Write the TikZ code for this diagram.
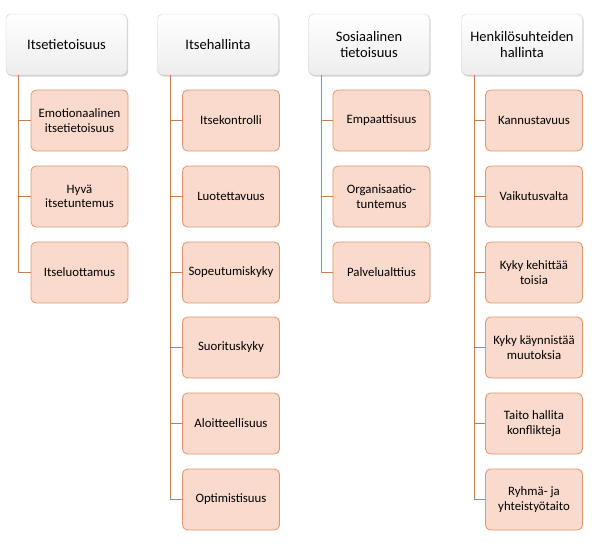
\documentclass[tikz,border=0pt]{standalone}
\usepackage{fontspec}
\setmainfont{Carlito}
\usepackage{tikz}
\usepackage{xcolor}
\usetikzlibrary{shadows}

\definecolor{branch}{RGB}{196,128,82}
\definecolor{itemline}{RGB}{226,150,106}
\definecolor{itemfill}{RGB}{249,218,204}
\definecolor{headline}{RGB}{205,205,205}

\tikzset{
  header/.style={draw=headline, rounded corners=5pt, top color=white, bottom color=gray!14,
    drop shadow={shadow xshift=1.2pt, shadow yshift=-1.5pt, opacity=0.35},
    minimum width=121pt, minimum height=61pt, align=center,
    font=\fontsize{14.5}{16.5}\selectfont},
  item/.style={draw=itemline, fill=itemfill, rounded corners=5pt, line width=0.8pt,
    minimum width=97pt, minimum height=61pt, align=center, inner sep=1pt,
    font=\fontsize{12.8}{14.5}\selectfont},
  branchline/.style={draw=branch, thick}
}

\begin{document}
\begin{tikzpicture}[x=1pt, y=-1pt]
  \useasboundingbox (0,0) rectangle (592,544);

  % Column 1
  \node[header] (h1) at (66.5,44.5) {Itsetietoisuus};
  \node[item] (a1) at (79.5,120.5) {Emotionaalinen\\itsetietoisuus};
  \node[item] (a2) at (79.5,196.5) {Hyvä\\itsetuntemus};
  \node[item] (a3) at (79.5,272.5) {Itseluottamus};

  % Column 2
  \node[header] (h2) at (218,44.5) {Itsehallinta};
  \node[item] (b1) at (231,120.5) {Itsekontrolli};
  \node[item] (b2) at (231,196.5) {Luotettavuus};
  \node[item] (b3) at (231,272.5) {Sopeutumiskyky};
  \node[item] (b4) at (231,347.5) {Suorituskyky};
  \node[item] (b5) at (231,423.5) {Aloitteellisuus};
  \node[item] (b6) at (231,499.5) {Optimistisuus};

  % Column 3
  \node[header] (h3) at (369,44.5) {Sosiaalinen\\tietoisuus};
  \node[item] (c1) at (381.5,120.5) {Empaattisuus};
  \node[item] (c2) at (381.5,196.5) {Organisaatio-\\tuntemus};
  \node[item] (c3) at (381.5,272.5) {Palvelualttius};

  % Column 4
  \node[header] (h4) at (522,44.5) {Henkilösuhteiden\\hallinta};
  \node[item] (d1) at (534,120.5) {Kannustavuus};
  \node[item] (d2) at (534,196.5) {Vaikutusvalta};
  \node[item] (d3) at (534,272.5) {Kyky kehittää\\toisia};
  \node[item] (d4) at (534,347.5) {Kyky käynnistää\\muutoksia};
  \node[item] (d5) at (534,423.5) {Taito hallita\\konflikteja};
  \node[item] (d6) at (534,499.5) {Ryhmä- ja\\yhteistyötaito};

  % Branch lines
  \foreach \h/\list in {h1/{a1,a2,a3}, h2/{b1,b2,b3,b4,b5,b6},
                        h3/{c1,c2,c3}, h4/{d1,d2,d3,d4,d5,d6}}
    \foreach \c in \list
      \draw[branchline] (\h.south west) ++(13,0) |- (\c.west);
\end{tikzpicture}
\end{document}
